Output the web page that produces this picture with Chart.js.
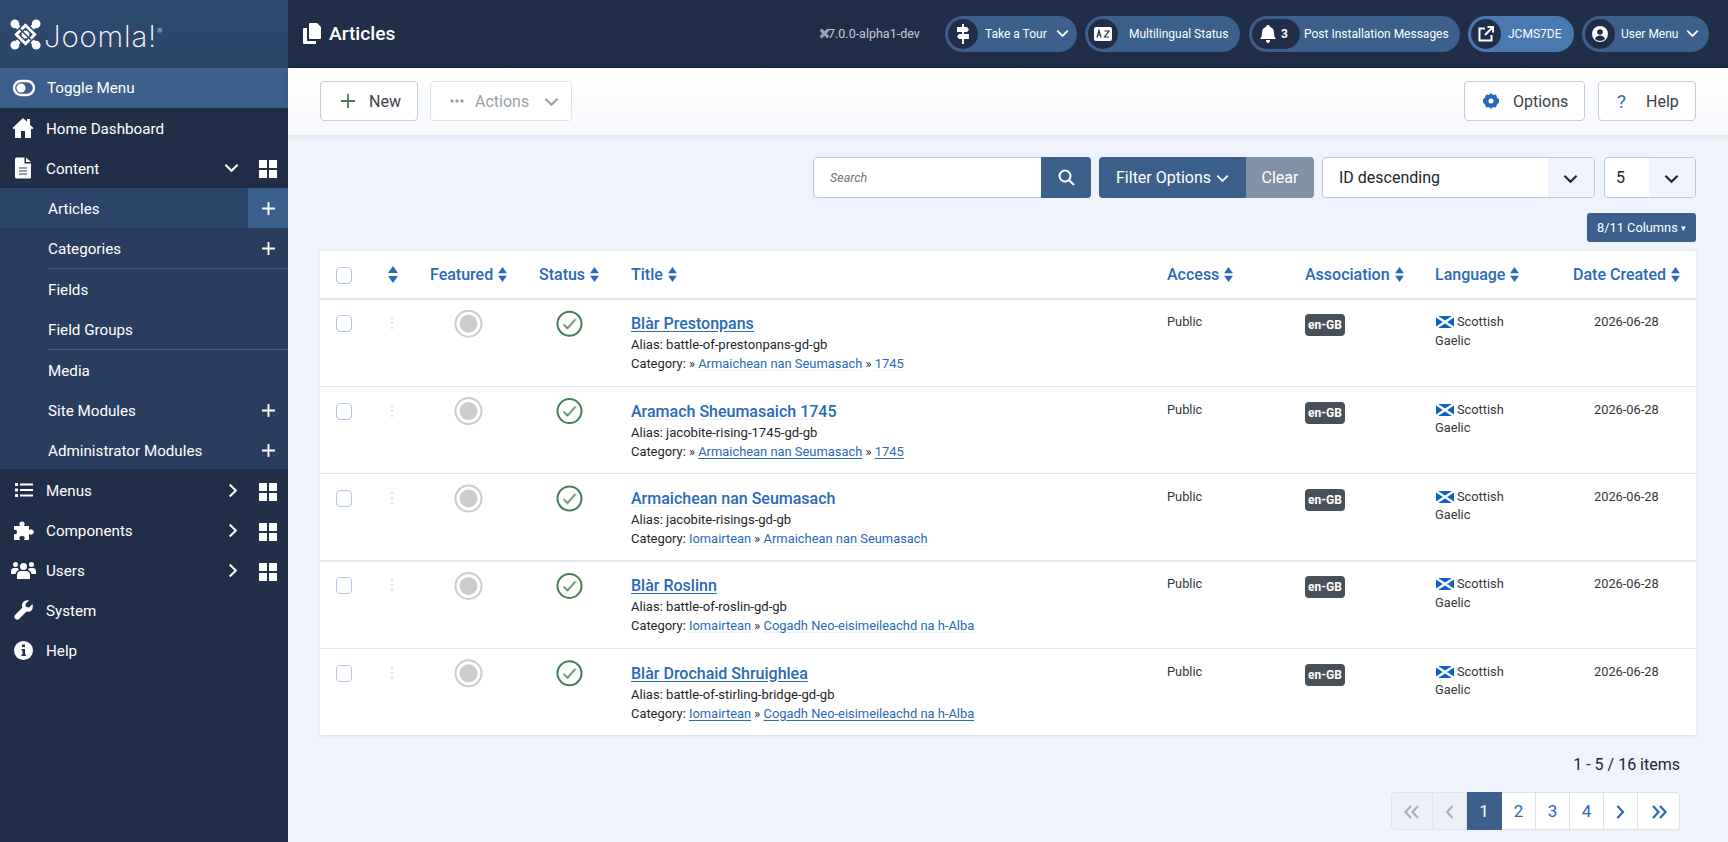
<!DOCTYPE html>
<html lang="en">
<head>
<meta charset="utf-8">
<title>Articles</title>
<script src="https://cdn.jsdelivr.net/npm/chart.js@4"></script>
<style>
* { box-sizing: border-box; }
html, body { margin: 0; width: 1728px; height: 842px; overflow: hidden; background: #eff3fb; font-family: Roboto, sans-serif; color: #22262a; }
.a { position: absolute; white-space: nowrap; }
svg { display: block; }

/* sidebar */
#side { left: 0; top: 0; width: 288px; height: 842px; background: #202f47; }
#logo { left: 0; top: 0; width: 288px; height: 68px; background: linear-gradient(#2e4a70, #2c4568); }
#logoText { left: 44px; top: 9px; font-size: 29.5px; line-height: 44px; font-weight: 200; color: #fff; letter-spacing: .8px; font-family: Inter, Roboto, sans-serif; }
#subBg { left: 0; top: 188px; width: 288px; height: 281px; background: #293e5e; }
.mi { left: 46px; color: #fff; font-size: 15.2px; line-height: 40px; height: 40px; }
.sub { left: 48px; }
.hr { left: 48px; width: 240px; height: 1px; background: #3d5f8c; }

/* header */
#head { left: 288px; top: 0; width: 1440px; height: 68px; background: #202f47; border-bottom: 1px solid #16233a; }
#pageTitle { left: 329px; top: 14px; font-size: 19.2px; line-height: 40px; color: #fff; font-weight: 500; }
#ver { left: 828px; top: 24px; font-size: 12.5px; line-height: 20px; color: #c6ccd6; }
.pill { top: 16px; height: 36px; border-radius: 18px; background: #3c5f8c; color: #fff; font-size: 12px; line-height: 36px; }
.dot { left: 3px; top: 3px; width: 30px; height: 30px; border-radius: 15px; background: #202f47; }
.pill span { position: absolute; top: 0; }

/* toolbar */
#bar { left: 288px; top: 68px; width: 1440px; height: 67px; background: linear-gradient(#fff, #f6f8fc); box-shadow: 0 2px 6px rgba(40, 60, 100, .1); }
.btn { height: 40px; top: 81px; background: #fff; border: 1px solid #c3cedc; border-radius: 4px; font-size: 16px; line-height: 40px; color: #3a4148; }
.btn span { position: absolute; top: 0; }
.ctl { top: 157px; height: 41px; font-size: 16px; line-height: 39px; }
.box { background: #fff; border: 1px solid #b9c8dc; border-radius: 4px; }
.navy { background: #3c5f8c; color: #fff; }
.arrowBox { top: 0; bottom: 0; right: 0; position: absolute; background: #eff3fb; border-radius: 0 3px 3px 0; }

/* table */
#tbl { left: 320px; top: 251px; width: 1376px; height: 484px; background: #fff; box-shadow: 0 1px 3px rgba(40, 60, 100, .12); }
.th { top: 262px; font-size: 16px; line-height: 26px; font-weight: 500; color: #2a69b8; }
.th svg { display: inline-block; vertical-align: -2px; margin-left: 4px; }
.rowline { left: 320px; width: 1376px; height: 1.5px; background: #e4e7f1; }
.cb { left: 336px; width: 16px; height: 17px; background: #fff; border: 1px solid #b5c6e2; border-radius: 4px; }
.drag { left: 390px; width: 4px; }
.title { left: 631px; font-size: 16px; line-height: 24px; font-weight: 500; color: #2a69b8; text-decoration: underline; text-decoration-color: #eef2fa; text-underline-offset: 2px; }
.meta { left: 631px; font-size: 13.05px; line-height: 20px; color: #22262a; }
.meta.cat { font-size: 12.9px; }
.meta a { color: #2a69b8; text-decoration: underline; text-decoration-color: #eef2fa; text-underline-offset: 2px; }
a.u, .title.u { text-decoration-color: #2a69b8 !important; }
.cell { font-size: 12.8px; line-height: 20px; color: #33383d; }
.badge { left: 1305px; width: 40px; height: 22px; background: #495057; border-radius: 4px; color: #fff; font-size: 12px; font-weight: 700; line-height: 22px; text-align: center; }

/* bottom */
#items { right: 48px; top: 753px; font-size: 16px; line-height: 24px; color: #22262a; }
.pg { top: 792px; height: 38px; background: #fff; border: 1px solid #dfe4ec; border-left: 0; text-align: center; font-size: 17px; line-height: 36px; color: #2a69b8; }
.pg svg { margin: 12px auto 0; }
.pg.off { background: #eceff5; color: #a9b0b9; }
.pg.on { background: #3c5f8c; color: #fff; border-color: #3c5f8c; }
#marks { left: 418px; top: 280px; pointer-events: none; }
</style>
</head>
<body>
<svg width="0" height="0" style="position:absolute">
  <defs>
    <symbol id="grid" viewBox="0 0 18 18"><rect x="0" y="0" width="8" height="8" fill="#fff"/><rect x="10" y="0" width="8" height="8" fill="#fff"/><rect x="0" y="10" width="8" height="8" fill="#fff"/><rect x="10" y="10" width="8" height="8" fill="#fff"/></symbol>
    <symbol id="plus" viewBox="0 0 14 14"><path d="M7 0V14M0 7H14" stroke="#fff" stroke-width="2" fill="none"/></symbol>
    <symbol id="down" viewBox="0 0 16 10"><path d="M1.500 1.500L8 8L14.500 1.500" stroke="currentColor" stroke-width="2.200" fill="none"/></symbol>
    <symbol id="right" viewBox="0 0 10 16"><path d="M1.500 1.500L8 8L1.500 14.500" stroke="currentColor" stroke-width="2.200" fill="none"/></symbol>
    <symbol id="sort" viewBox="0 0 12 17"><path d="M6 0L11 7H1ZM6 17L1 10H11Z" fill="#2a69b8"/></symbol>
    <symbol id="flag" viewBox="0 0 18 12"><rect width="18" height="12" fill="#0b62c4"/><path d="M0 0L18 12M18 0L0 12" stroke="#fff" stroke-width="2.400"/></symbol>
    <symbol id="first" viewBox="0 0 16 14"><path d="M7 1L1.500 7L7 13M14 1L8.500 7L14 13" stroke="currentColor" stroke-width="2.200" fill="none"/></symbol>
    <symbol id="prev" viewBox="0 0 9 14"><path d="M7.500 1L2 7L7.500 13" stroke="currentColor" stroke-width="2.200" fill="none"/></symbol>
    <symbol id="next" viewBox="0 0 9 14"><path d="M1.500 1L7 7L1.500 13" stroke="currentColor" stroke-width="2.200" fill="none"/></symbol>
    <symbol id="last" viewBox="0 0 16 14"><path d="M2 1L7.500 7L2 13M9 1L14.500 7L9 13" stroke="currentColor" stroke-width="2.200" fill="none"/></symbol>
  </defs>
</svg>

<div class="a" id="side"></div>
<div class="a" id="logo"></div>
<svg class="a" style="left:10px;top:19px" width="31" height="31" viewBox="0 0 32 32"><g fill="none" stroke="#fff" stroke-width="5" stroke-linecap="round"><path d="M5 5L27 27M27 5L5 27"/></g><path d="M16 6.500L25.500 16L16 25.500L6.500 16Z" fill="none" stroke="#2d486c" stroke-width="6"/><path d="M16 6.500L25.500 16L16 25.500L6.500 16Z" fill="none" stroke="#fff" stroke-width="3"/><path d="M10 10L22 22" stroke="#2d486c" stroke-width="1.500"/><g fill="#fff"><circle cx="5" cy="5" r="4.500"/><circle cx="27" cy="5" r="4.500"/><circle cx="5" cy="27" r="4.500"/><circle cx="27" cy="27" r="4.500"/></g></svg>
<div class="a" id="logoText">Joomla!<sup style="font-size:8px;vertical-align:13px;letter-spacing:0">®</sup></div>

<div class="a" style="left:0;top:68px;width:288px;height:40px;background:#3c5f8c"></div>
<div class="a" id="subBg"></div>
<div class="a" style="left:0;top:188px;width:248px;height:40px;background:#2c4568"></div>
<div class="a" style="left:248px;top:188px;width:40px;height:40px;background:#3c5f8c"></div>

<svg class="a" style="left:12px;top:77px" width="24" height="22" viewBox="0 0 24 22"><rect x="2" y="4" width="20" height="14" rx="7" fill="none" stroke="#fff" stroke-width="2.400"/><circle cx="9" cy="11" r="4.500" fill="#fff"/></svg>
<div class="a mi" style="left:47px;top:68px">Toggle Menu</div>

<svg class="a" style="left:11px;top:116px" width="24" height="24" viewBox="0 0 24 24"><path d="M12 2L1.500 12L3 13.500L4 12.600V22H10V15H14V22H20V12.600L21 13.500L22.500 12L19 8.700V3H16V5.800Z" fill="#fff"/></svg>
<div class="a mi" style="top:109px">Home Dashboard</div>

<svg class="a" style="left:14px;top:157px" width="18" height="22" viewBox="0 0 18 22"><path d="M1 2Q1 .500 2.500 .500H10.500V6.500H17V20Q17 21.500 15.500 21.500H2.500Q1 21.500 1 20ZM12 .500L17 5H12Z" fill="#fff"/><path d="M5 11H13M5 14H13M5 17H13" stroke="#293e5e" stroke-width="1.200"/></svg>
<div class="a mi" style="top:149px">Content</div>
<svg class="a" style="left:224px;top:163px;color:#fff" width="15" height="10"><use href="#down"/></svg>
<svg class="a" style="left:259px;top:160px" width="18" height="18"><use href="#grid"/></svg>

<div class="a mi sub" style="top:189px">Articles</div>
<svg class="a" style="left:262px;top:202px" width="13" height="13"><use href="#plus"/></svg>
<div class="a mi sub" style="top:229px">Categories</div>
<svg class="a" style="left:262px;top:242px" width="13" height="13"><use href="#plus"/></svg>
<div class="a hr" style="top:268px"></div>
<div class="a mi sub" style="top:270px">Fields</div>
<div class="a mi sub" style="top:310px">Field Groups</div>
<div class="a hr" style="top:349px"></div>
<div class="a mi sub" style="top:351px">Media</div>
<div class="a mi sub" style="top:391px">Site Modules</div>
<svg class="a" style="left:262px;top:404px" width="13" height="13"><use href="#plus"/></svg>
<div class="a mi sub" style="top:431px">Administrator Modules</div>
<svg class="a" style="left:262px;top:444px" width="13" height="13"><use href="#plus"/></svg>

<svg class="a" style="left:14px;top:482px" width="19" height="16" viewBox="0 0 19 16"><path d="M6 2.500H19M6 8H19M6 13.500H19" stroke="#fff" stroke-width="2.200"/><path d="M1 1H4V4H1ZM1 6.500H4V9.500H1ZM1 12H4V15H1Z" fill="#fff"/></svg>
<div class="a mi" style="top:471px">Menus</div>
<svg class="a" style="left:228px;top:483px;color:#fff" width="10" height="15"><use href="#right"/></svg>
<svg class="a" style="left:259px;top:483px" width="18" height="18"><use href="#grid"/></svg>

<svg class="a" style="left:13px;top:521px" width="21" height="20" viewBox="0 0 21 20"><path d="M1 5H7Q5 1 9 .500Q13 1 11 5H16V9Q20 7 21 11Q20 15 16 13V19H11Q13 15 9 15Q5 15 7 19H1V13Q4 14 4 11Q4 8 1 9Z" fill="#fff"/></svg>
<div class="a mi" style="top:511px">Components</div>
<svg class="a" style="left:228px;top:523px;color:#fff" width="10" height="15"><use href="#right"/></svg>
<svg class="a" style="left:259px;top:523px" width="18" height="18"><use href="#grid"/></svg>

<svg class="a" style="left:11px;top:561px" width="25" height="18" viewBox="0 0 25 18"><g fill="#fff"><circle cx="12.500" cy="5.500" r="3.500"/><circle cx="4.500" cy="3.500" r="2.500"/><circle cx="20.500" cy="3.500" r="2.500"/><path d="M6 18V14Q6 10 10 10H15Q19 10 19 14V18ZM0 11Q0 7 3 7H6.500Q7.500 7.500 8 8.500Q5 10 4.500 13H0ZM25 11Q25 7 22 7H18.500Q17.500 7.500 17 8.500Q20 10 20.500 13H25Z"/></g></svg>
<div class="a mi" style="top:551px">Users</div>
<svg class="a" style="left:228px;top:563px;color:#fff" width="10" height="15"><use href="#right"/></svg>
<svg class="a" style="left:259px;top:563px" width="18" height="18"><use href="#grid"/></svg>

<svg class="a" style="left:14px;top:600px" width="19" height="20" viewBox="0 0 19 20"><path d="M18.500 4L15 7.500L12 7L11.500 4L15 .500Q10.500 -.500 8.500 3Q7.500 5.500 8.500 7.500L1 15Q-.500 17 1.500 19Q3.500 20.500 5 19L12.500 11.500Q15.500 12.500 17.500 10.500Q19.500 8 18.500 4Z" fill="#fff"/></svg>
<div class="a mi" style="top:591px">System</div>

<svg class="a" style="left:13px;top:640px" width="21" height="21" viewBox="0 0 21 21"><circle cx="10.500" cy="10.500" r="9.500" fill="#fff"/><path d="M9 4.500H12V7H9ZM8.500 9H12V14.500H13V16H8.500V14.500H9.500V10.500H8.500Z" fill="#202f47"/></svg>
<div class="a mi" style="top:631px">Help</div>

<div class="a" id="head"></div>
<svg class="a" style="left:303px;top:23px" width="18" height="22" viewBox="0 0 18 22"><path d="M6 1Q6 0 7 0H14L18 4V15Q18 16 17 16H7Q6 16 6 15Z" fill="#fff"/><path d="M4 5V18H13V21H1Q0 21 0 20V6Q0 5 1 5Z" fill="#fff"/></svg>
<div class="a" id="pageTitle">Articles</div>
<svg class="a" style="left:819px;top:28px" width="11" height="11" viewBox="0 0 32 32"><path d="M5 5L27 27M27 5L5 27" stroke="#9aa3b0" stroke-width="9"/></svg>
<div class="a" id="ver">7.0.0-alpha1-dev</div>

<div class="a pill" style="left:945px;width:132px"><div class="a dot"></div><svg class="a" style="left:12px;top:8px" width="12" height="20" viewBox="0 0 12 20"><path d="M5 0H7V20H5Z M0 3H10L12 5.500L10 8H0Z M2 10H12V15H2L0 12.500Z" fill="#fff"/></svg><span style="left:40px">Take a Tour</span><svg class="a" style="left:111px;top:13px;color:#fff" width="13" height="9"><use href="#down"/></svg></div>
<div class="a pill" style="left:1085px;width:155px"><div class="a dot"></div><svg class="a" style="left:9px;top:11px" width="18" height="14" viewBox="0 0 18 14"><rect width="18" height="14" rx="2" fill="#fff"/><path d="M3 10.500L5 3.500L7 10.500M4 8H6M10.500 4H15L10.500 10H15" stroke="#202f47" stroke-width="1.200" fill="none"/></svg><span style="left:44px">Multilingual Status</span></div>
<div class="a pill" style="left:1249px;width:211px"><div class="a dot" style="width:48px"></div><svg class="a" style="left:11px;top:9px" width="16" height="18" viewBox="0 0 16 18"><path d="M8 0Q10 0 10 2Q14 3 14 8Q14 12 16 14H0Q2 12 2 8Q2 3 6 2Q6 0 8 0ZM6 15H10Q10 18 8 18Q6 18 6 15Z" fill="#fff"/></svg><span style="left:32px;font-weight:700">3</span><span style="left:55px">Post Installation Messages</span></div>
<div class="a pill" style="left:1468px;width:106px;background:#4a78b0"><div class="a dot"></div><svg class="a" style="left:10px;top:10px" width="16" height="16" viewBox="0 0 16 16"><path d="M7 2.500H1.500V14.500H13.500V9M9.500 1H15V6.500M15 1L7 9" stroke="#fff" stroke-width="2" fill="none"/></svg><span style="left:40px">JCMS7DE</span></div>
<div class="a pill" style="left:1582px;width:127px"><div class="a dot"></div><svg class="a" style="left:10px;top:10px" width="16" height="16" viewBox="0 0 16 16"><circle cx="8" cy="8" r="8" fill="#fff"/><circle cx="8" cy="6" r="2.800" fill="#202f47"/><path d="M3 13Q4 9.500 8 9.500Q12 9.500 13 13Q8 17 3 13Z" fill="#202f47"/></svg><span style="left:39px">User Menu</span><svg class="a" style="left:104px;top:13px;color:#fff" width="13" height="9"><use href="#down"/></svg></div>

<div class="a" id="bar"></div>
<div class="a btn" style="left:320px;width:98px"><svg class="a" style="left:20px;top:12px" width="14" height="14" viewBox="0 0 14 14"><path d="M7 0V14M0 7H14" stroke="#457d54" stroke-width="1.800"/></svg><span style="left:48px">New</span></div>
<div class="a btn" style="left:430px;width:142px;border-color:#dde3ec;color:#9aa1a9"><svg class="a" style="left:19px;top:17px" width="14" height="4" viewBox="0 0 14 4"><circle cx="2" cy="2" r="1.700" fill="#9aa1a9"/><circle cx="7" cy="2" r="1.700" fill="#9aa1a9"/><circle cx="12" cy="2" r="1.700" fill="#9aa1a9"/></svg><span style="left:44px">Actions</span><svg class="a" style="left:113px;top:15px;color:#9aa1a9" width="15" height="10"><use href="#down"/></svg></div>
<div class="a btn" style="left:1464px;width:121px"><svg class="a" style="left:18px;top:11px" width="16" height="16" viewBox="0 0 16 16"><path d="M8 0L10 2L13 1.500L14 4.500L16 6.500V9.500L14 11.500L13 14.500L10 14L8 16L6 14L3 14.500L2 11.500L0 9.500V6.500L2 4.500L3 1.500L6 2Z" fill="#2a69b8"/><circle cx="8" cy="8" r="2.500" fill="#fff"/></svg><span style="left:48px">Options</span></div>
<div class="a btn" style="left:1598px;width:98px"><span style="left:18px;color:#2a69b8;font-size:19px">?</span><span style="left:47px">Help</span></div>

<div class="a ctl box" style="left:813px;width:278px;color:#6d757e;font-size:12.500px;font-style:italic"><span class="a" style="left:16px;top:0">Search</span></div>
<div class="a ctl navy" style="left:1041px;width:50px;border-radius:0 4px 4px 0"><svg class="a" style="left:17px;top:12px" width="17" height="17" viewBox="0 0 17 17"><circle cx="7" cy="7" r="5.500" fill="none" stroke="#fff" stroke-width="2"/><path d="M11 11L16 16" stroke="#fff" stroke-width="2.200"/></svg></div>
<div class="a ctl navy" style="left:1099px;width:147px;border-radius:4px 0 0 4px"><span class="a" style="left:17px;top:1px">Filter Options</span><svg class="a" style="left:117px;top:17px;color:#fff" width="13" height="9"><use href="#down"/></svg></div>
<div class="a ctl" style="left:1246px;width:68px;background:#8191a8;color:#fff;border-radius:0 4px 4px 0;text-align:center;line-height:41px">Clear</div>
<div class="a ctl box" style="left:1322px;width:273px"><span class="a" style="left:16px;top:0">ID descending</span><div class="arrowBox" style="width:46px"><svg class="a" style="left:15px;top:16px;color:#22262a" width="15" height="10"><use href="#down"/></svg></div></div>
<div class="a ctl box" style="left:1604px;width:92px"><span class="a" style="left:11px;top:0">5</span><div class="arrowBox" style="width:46px"><svg class="a" style="left:15px;top:16px;color:#22262a" width="15" height="10"><use href="#down"/></svg></div></div>
<div class="a navy" style="left:1587px;top:213px;width:109px;height:29px;border-radius:3px;font-size:12.800px;line-height:29px;text-align:center">8/11 Columns <span style="font-size:9px;vertical-align:1px">▾</span></div>

<div class="a" id="tbl"></div>
<div id="rows"></div>
<canvas class="a" id="marks" width="202" height="437"></canvas>

<div class="a" id="items">1 - 5 / 16 items</div>
<div id="pager"></div>

<script>
// table text
const articleTitles = ['Blàr Prestonpans', 'Aramach Sheumasaich 1745', 'Armaichean nan Seumasach', 'Blàr Roslinn', 'Blàr Drochaid Shruighlea'];
const articleAliases = ['battle-of-prestonpans-gd-gb', 'jacobite-rising-1745-gd-gb', 'jacobite-risings-gd-gb', 'battle-of-roslin-gd-gb', 'battle-of-stirling-bridge-gd-gb'];
const categoryParents = ['', '', 'Iomairtean', 'Iomairtean', 'Iomairtean'];
const categoryFirst = ['Armaichean nan Seumasach', 'Armaichean nan Seumasach', 'Armaichean nan Seumasach', 'Cogadh Neo-eisimeileachd na h-Alba', 'Cogadh Neo-eisimeileachd na h-Alba'];
const categoryLast = ['1745', '1745', '', '', ''];
const titleUnderlined = [true, false, false, true, true];
const categoryUnderlined = [false, true, false, false, true];
const accessLevels = ['Public', 'Public', 'Public', 'Public', 'Public'];
const associations = ['en-GB', 'en-GB', 'en-GB', 'en-GB', 'en-GB'];
const languages = ['Scottish', 'Scottish', 'Scottish', 'Scottish', 'Scottish'];
const dates = ['2026-06-28', '2026-06-28', '2026-06-28', '2026-06-28', '2026-06-28'];
const headers = ['Featured', 'Status', 'Title', 'Access', 'Association', 'Language', 'Date Created'];
const pagerLabels = ['first', 'prev', '1', '2', '3', '4', 'next', 'last'];

// mark columns for the chart
const markColumns = ['Featured', 'Status'];
const featuredOn = [false, false, false, false, false];
const statusOn = [true, true, true, true, true];

const headerLeft = [430, 539, 631, 1167, 1305, 1435, 1573];
const pagerEdges = [1391, 1433, 1467, 1502, 1536, 1570, 1604, 1638, 1680];
const rowTop = i => 299.3 + i * 87.3;

let html = '<div class="a cb" style="top:267px"></div>';
html += '<svg class="a" style="left:387px;top:266px" width="12" height="17"><use href="#sort"/></svg>';
headers.forEach((h, i) => {
    html += `<div class="a th" style="left:${headerLeft[i]}px">${h}<svg width="11" height="15"><use href="#sort"/></svg></div>`;
});
html += `<div class="a rowline" style="top:298px"></div>`;
articleTitles.forEach((t, i) => {
    const y = rowTop(i);
    const u = categoryUnderlined[i] ? ' class="u"' : '';
    let cat = 'Category: ';
    cat += categoryParents[i] ? `<a${u}>${categoryParents[i]}</a> » ` : '» ';
    cat += `<a${u}>${categoryFirst[i]}</a>`;
    if (categoryLast[i]) cat += ` » <a${u}>${categoryLast[i]}</a>`;
    html += `<div class="a cb" style="top:${y + 16}px"></div>`;
    html += `<svg class="a drag" style="top:${y + 17}px" height="14" width="4"><g fill="#dfe2e6"><circle cx="2" cy="2" r="1.300"/><circle cx="2" cy="7" r="1.300"/><circle cx="2" cy="12" r="1.300"/></g></svg>`;
    html += `<div class="a title${titleUnderlined[i] ? ' u' : ''}" style="top:${y + 13}px">${t}</div>`;
    html += `<div class="a meta" style="top:${y + 36}px">Alias: ${articleAliases[i]}</div>`;
    html += `<div class="a meta cat" style="top:${y + 55}px">${cat}</div>`;
    html += `<div class="a cell" style="left:1167px;top:${y + 13}px">${accessLevels[i]}</div>`;
    html += `<div class="a badge" style="top:${y + 15}px">${associations[i]}</div>`;
    html += `<svg class="a" style="left:1436px;top:${y + 17}px" width="18" height="12"><use href="#flag"/></svg>`;
    html += `<div class="a cell" style="left:1457px;top:${y + 13}px">${languages[i]}</div>`;
    html += `<div class="a cell" style="left:1435px;top:${y + 31.500}px">Gaelic</div>`;
    html += `<div class="a cell" style="left:1594px;top:${y + 13}px">${dates[i]}</div>`;
    if (i < 4) html += `<div class="a rowline" style="top:${y + 86.3}px"></div>`;
});
document.getElementById('rows').innerHTML = html;

document.getElementById('pager').innerHTML = pagerLabels.map((p, i) => {
    const cls = i < 2 ? ' off' : i === 2 ? ' on' : '';
    const b = i === 0 ? 'border-left:1px solid #dfe4ec;border-radius:4px 0 0 4px;' : i === 7 ? 'border-radius:0 4px 4px 0;' : '';
    const wide = p === 'first' || p === 'last';
    const body = isNaN(p) ? `<svg width="${wide ? 16 : 9}" height="14"><use href="#${p}"/></svg>` : p;
    return `<div class="a pg${cls}" style="left:${pagerEdges[i]}px;width:${pagerEdges[i + 1] - pagerEdges[i]}px;${b}">${body}</div>`;
}).join('');

// check glyph used as point style
function checkGlyph() {
    const c = document.createElement('canvas');
    c.width = 14;
    c.height = 12;
    const g = c.getContext('2d');
    g.strokeStyle = '#457d54';
    g.lineWidth = 1.6;
    g.beginPath();
    g.moveTo(1, 6.5);
    g.lineTo(5, 10.5);
    g.lineTo(13, 1.5);
    g.stroke();
    return c;
}

function columnPoints(column, states, wanted) {
    return articleTitles.map((t, i) => states[i] === wanted ? { x: column, y: t } : null).filter(Boolean);
}

new Chart(document.getElementById('marks'), {
    type: 'scatter',
    data: {
        datasets: [
            { data: columnPoints('Featured', featuredOn, false), pointStyle: 'circle', pointRadius: 9, backgroundColor: '#cccccc', borderWidth: 0 },
            { data: columnPoints('Featured', featuredOn, false), pointStyle: 'circle', pointRadius: 13, backgroundColor: '#ffffff', borderColor: '#cccccc', borderWidth: 2 },
            { data: columnPoints('Status', statusOn, true), pointStyle: checkGlyph(), pointRadius: 7 },
            { data: columnPoints('Status', statusOn, true), pointStyle: 'circle', pointRadius: 12, backgroundColor: '#ffffff', borderColor: '#457d54', borderWidth: 2 }
        ]
    },
    options: {
        responsive: false,
        animation: false,
        events: [],
        clip: false,
        layout: { autoPadding: false },
        scales: {
            x: { type: 'category', labels: markColumns, offset: true, display: false },
            y: { type: 'category', labels: articleTitles, offset: true, reverse: true, display: false }
        },
        plugins: { legend: { display: false }, tooltip: { enabled: false } }
    }
});
</script>
</body>
</html>
